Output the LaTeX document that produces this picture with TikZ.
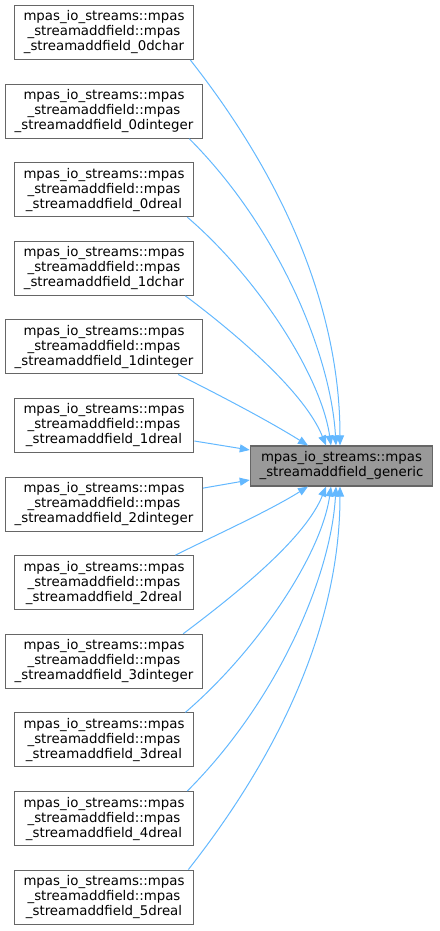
\documentclass[tikz,border=0pt]{standalone}
\usepackage{fontspec}
\setmainfont{DejaVu Sans}
\usetikzlibrary{arrows.meta}
\definecolor{edgeblue}{HTML}{63B8FF}
\definecolor{boxline}{HTML}{666666}
\definecolor{mainfill}{HTML}{999999}
\begin{document}
\begin{tikzpicture}[x=0.75pt, y=-0.75pt, >={Triangle[length=7.5pt,width=6pt]},
    caller/.style={draw=boxline, line width=0.8pt, fill=white, align=center,
      font=\fontsize{10}{11.25}\selectfont, inner xsep=7pt, inner ysep=0pt,
      minimum height=40.5pt},
    callee/.style={caller, fill=mainfill, minimum height=30pt},
    edge/.style={->, draw=edgeblue, line width=0.75pt}]
  \useasboundingbox (0,0) rectangle (439,931);
  % callers, one column
  \foreach \name [count=\i from 0] in {0dchar,0dinteger,0dreal,1dchar,1dinteger,1dreal,
      2dinteger,2dreal,3dinteger,3dreal,4dreal,5dreal}
    \node[caller] (c\name) at (104, 32.5+78.6*\i)
      {mpas\_io\_streams::mpas\\\_streamaddfield::mpas\\\_streamaddfield\_\name};
  \node[callee] (main) at (341.5,466) {mpas\_io\_streams::mpas\\\_streamaddfield\_generic};
  % edges above
  \draw[edge] ([shift={(-4,0)}]c0dchar.south east) .. controls +(110,140) and +(0,-116) .. ([shift={(-1.5,0)}]main.north);
  \draw[edge] ([shift={(-14,0)}]c0dinteger.south east) .. controls +(90,90) and +(-5,-90) .. ([shift={(-5.5,0)}]main.north);
  \draw[edge] ([shift={(-7,0)}]c0dreal.south east) .. controls +(70,60) and +(-10,-70) .. ([shift={(-10.5,0)}]main.north);
  \draw[edge] ([shift={(-9,0)}]c1dchar.south east) .. controls +(60,45) and +(-20,-50) .. ([shift={(-15.5,0)}]main.north);
  \draw[edge] ([shift={(-25,0)}]c1dinteger.south east) .. controls +(40,20) and +(-40,-25) .. ([shift={(-33.5,0)}]main.north);
  % edges to the side
  \draw[edge] ([shift={(0,15.5)}]c1dreal.east) -- ([shift={(0,-16)}]main.west);
  \draw[edge] ([shift={(0,-16)}]c2dinteger.east) -- ([shift={(0,14)}]main.west);
  % edges below
  \draw[edge] ([shift={(-19,0)}]c2dreal.north east) .. controls +(40,-20) and +(-40,25) .. ([shift={(-33.5,0)}]main.south);
  \draw[edge] ([shift={(-20,0)}]c3dinteger.north east) .. controls +(60,-45) and +(-20,50) .. ([shift={(-15.5,0)}]main.south);
  \draw[edge] ([shift={(-9,0)}]c3dreal.north east) .. controls +(70,-60) and +(-10,70) .. ([shift={(-10.5,0)}]main.south);
  \draw[edge] ([shift={(-7,0)}]c4dreal.north east) .. controls +(90,-90) and +(-5,90) .. ([shift={(-5.5,0)}]main.south);
  \draw[edge] ([shift={(-6,0)}]c5dreal.north east) .. controls +(110,-140) and +(0,116) .. ([shift={(-1.5,0)}]main.south);
\end{tikzpicture}
\end{document}
